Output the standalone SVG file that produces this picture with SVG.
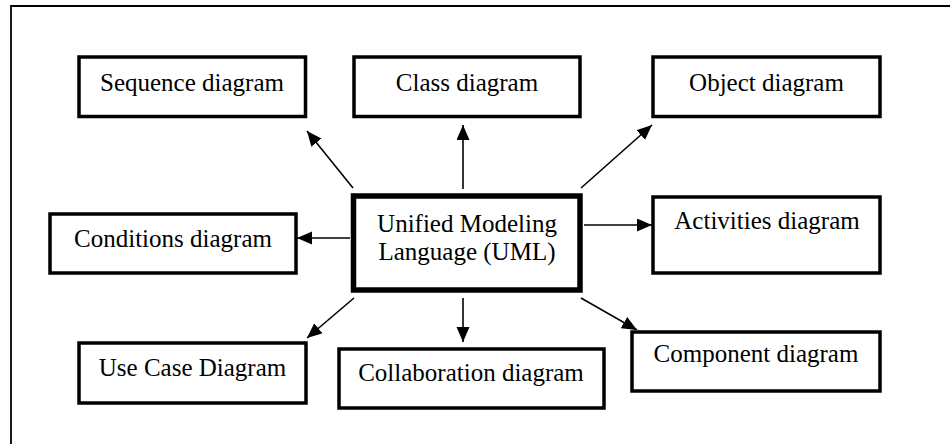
<svg xmlns="http://www.w3.org/2000/svg" width="950" height="444" viewBox="0 0 950 444">
<style>
.box{fill:#fff;stroke:#000;stroke-width:3.5}
.main{fill:#fff;stroke:#000;stroke-width:5.5}
.t{font-family:"Liberation Serif","Times New Roman",serif;font-size:25px;fill:#000;text-anchor:middle}
.c{stroke:#000;stroke-width:1.6;fill:none;marker-end:url(#ah)}
</style>
<defs>
<marker id="ah" markerUnits="userSpaceOnUse" markerWidth="16" markerHeight="14" refX="15" refY="6.5" orient="auto">
<path d="M0,0 L15,6.5 L0,13 Z" fill="#000"/>
</marker>
</defs>
<path d="M11,444 V6 H950" fill="none" stroke="#000" stroke-width="1.8"/>
<g id="connectors">
<line class="c" x1="353" y1="188" x2="307" y2="131"/>
<line class="c" x1="463" y1="189" x2="463" y2="125"/>
<line class="c" x1="581" y1="188" x2="652" y2="125"/>
<line class="c" x1="584" y1="225" x2="652" y2="225"/>
<line class="c" x1="350" y1="238" x2="297" y2="238"/>
<line class="c" x1="354" y1="298" x2="307" y2="338"/>
<line class="c" x1="463" y1="298" x2="463" y2="342"/>
<line class="c" x1="581" y1="298" x2="637" y2="330"/>
</g>
<g id="uml">
<rect class="main" x="353.5" y="196" width="226.5" height="94"/>
<text class="t" x="467" y="232">Unified Modeling</text>
<text class="t" x="467" y="260">Language (UML)</text>
</g>
<g id="sequence">
<rect class="box" x="79" y="57" width="226.5" height="59.5"/>
<text class="t" x="192" y="91">Sequence diagram</text>
</g>
<g id="class">
<rect class="box" x="354" y="57" width="226" height="59.5"/>
<text class="t" x="467" y="91">Class diagram</text>
</g>
<g id="object">
<rect class="box" x="653" y="57" width="227" height="59.5"/>
<text class="t" x="766.5" y="91">Object diagram</text>
</g>
<g id="conditions">
<rect class="box" x="50" y="214" width="246" height="59"/>
<text class="t" x="173" y="247">Conditions diagram</text>
</g>
<g id="activities">
<rect class="box" x="653" y="197" width="227" height="76"/>
<text class="t" x="767" y="229">Activities diagram</text>
</g>
<g id="usecase">
<rect class="box" x="79" y="343" width="227" height="60"/>
<text class="t" x="192.5" y="376">Use Case Diagram</text>
</g>
<g id="collaboration">
<rect class="box" x="339" y="349" width="265" height="59"/>
<text class="t" x="471" y="381">Collaboration diagram</text>
</g>
<g id="component">
<rect class="box" x="632" y="332" width="248" height="59"/>
<text class="t" x="756" y="362">Component diagram</text>
</g>
</svg>
